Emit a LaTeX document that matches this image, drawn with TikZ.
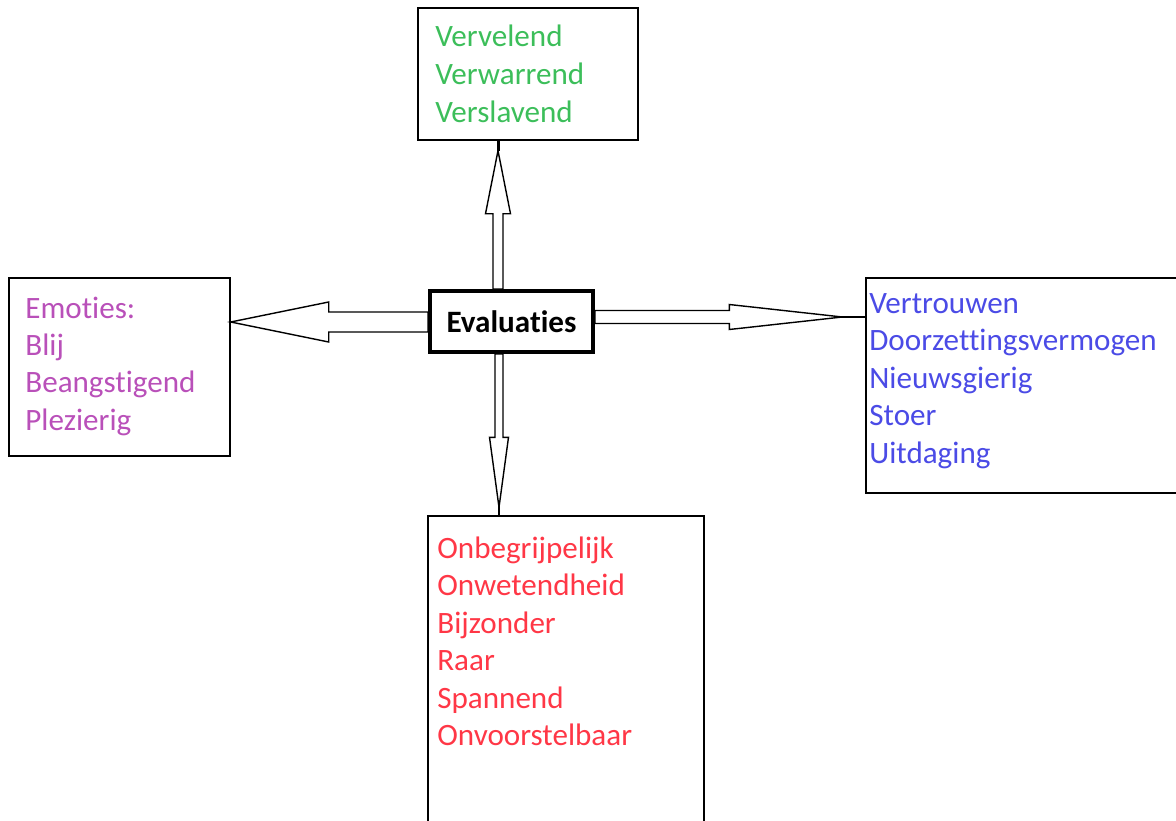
\documentclass[tikz,border=0pt]{standalone}
\usepackage{fontspec}
\setmainfont[Ligatures=NoCommon]{Carlito}
\usetikzlibrary{calc,backgrounds}
\newcommand{\pix}{0.02cm}
\definecolor{vgreen}{RGB}{60,190,90}
\definecolor{vpurple}{RGB}{185,80,185}
\definecolor{vblue}{RGB}{75,75,230}
\definecolor{vred}{RGB}{255,55,70}

\begin{document}
\begin{tikzpicture}[x=\pix,y=-\pix,
  box/.style={draw,rectangle,line width=0.8pt,inner sep=0pt},
  word/.style={anchor=base west,inner sep=0pt,font=\fontsize{17.7}{21.5}\selectfont},
  blk/.style={draw,fill=white,line width=0.8pt},
  stem/.style={line width=1.7pt}]
\useasboundingbox (0,0) rectangle (1176,821);
\clip (0,0) rectangle (1176,821);

\node[box,minimum width=220*\pix,minimum height=132*\pix] (top) at (528,74) {};
\node[box,minimum width=221*\pix,minimum height=178*\pix] (left) at (119.5,367) {};
\node[box,minimum width=324*\pix,minimum height=215*\pix] (right) at (1028,385.5) {};
\node[box,minimum width=276*\pix,minimum height=324*\pix] (bottom) at (566,678) {};
\node[box,line width=2.3pt,minimum width=163*\pix,minimum height=61*\pix,
  font=\fontsize{17.7}{21.5}\selectfont\bfseries] (eval) at (511.5,321.5) {Evaluaties};

\foreach \w [count=\i] in {Vervelend,Verwarrend,Verslavend}
  \node[word,text=vgreen] (top\i) at (435,9.5+37.5*\i) {\w};
\foreach \w [count=\i] in {Emoties:,Blij,Beangstigend,Plezierig}
  \node[word,text=vpurple] (left\i) at (25,281+37.3*\i) {\w};
\foreach \w [count=\i] in {Vertrouwen,Doorzettingsvermogen,Nieuwsgierig,Stoer,Uitdaging}
  \node[word,text=vblue] (right\i) at (869,275.8+37.5*\i) {\w};
\foreach \w [count=\i] in {Onbegrijpelijk,Onwetendheid,Bijzonder,Raar,Spannend,Onvoorstelbaar}
  \node[word,text=vred] (bottom\i) at (437,520.5+37.5*\i) {\w};

\begin{pgfonlayer}{background}
% up
\coordinate (u0) at (498,0 |- eval.north);
\coordinate (u1) at (498,0 |- top.south);
\draw[blk] ($(u0)+(-5,0)$) -- ($(u1)+(-5,73)$) -- ($(u1)+(-12.5,73)$) -- ($(u1)+(0,10)$)
  -- ($(u1)+(12.5,73)$) -- ($(u1)+(5,73)$) -- ($(u0)+(5,0)$) -- cycle;
\draw[stem] ($(u1)+(0,10)$) -- (u1);
% left
\coordinate (l0) at (eval.west |- 0,322);
\coordinate (l1) at (left.east |- 0,322);
\draw[blk] ($(l0)+(0,-10)$) -- ($(l1)+(98,-10)$) -- ($(l1)+(98,-20)$) -- (l1)
  -- ($(l1)+(98,20)$) -- ($(l1)+(98,10)$) -- ($(l0)+(0,10)$) -- cycle;
% right
\coordinate (r0) at (eval.east |- 0,317);
\coordinate (r1) at (right.west |- 0,317);
\draw[blk] ($(r0)+(0,-6.5)$) -- ($(r1)+(-136,-6.5)$) -- ($(r1)+(-136,-12.5)$) -- ($(r1)+(-23,0)$)
  -- ($(r1)+(-136,12.5)$) -- ($(r1)+(-136,6.5)$) -- ($(r0)+(0,6.5)$) -- cycle;
\draw[stem] ($(r1)+(-23,0)$) -- (r1);
% down
\coordinate (d0) at (499,0 |- eval.south);
\coordinate (d1) at (499,0 |- bottom.north);
\draw[blk] ($(d0)+(-4,0)$) -- ($(d1)+(-4,-78)$) -- ($(d1)+(-9.5,-78)$) -- ($(d1)+(0,-8)$)
  -- ($(d1)+(9.5,-78)$) -- ($(d1)+(4,-78)$) -- ($(d0)+(4,0)$) -- cycle;
\draw[line width=0.8pt] ($(d1)+(0,-8)$) -- (d1);
\end{pgfonlayer}
\end{tikzpicture}
\end{document}
